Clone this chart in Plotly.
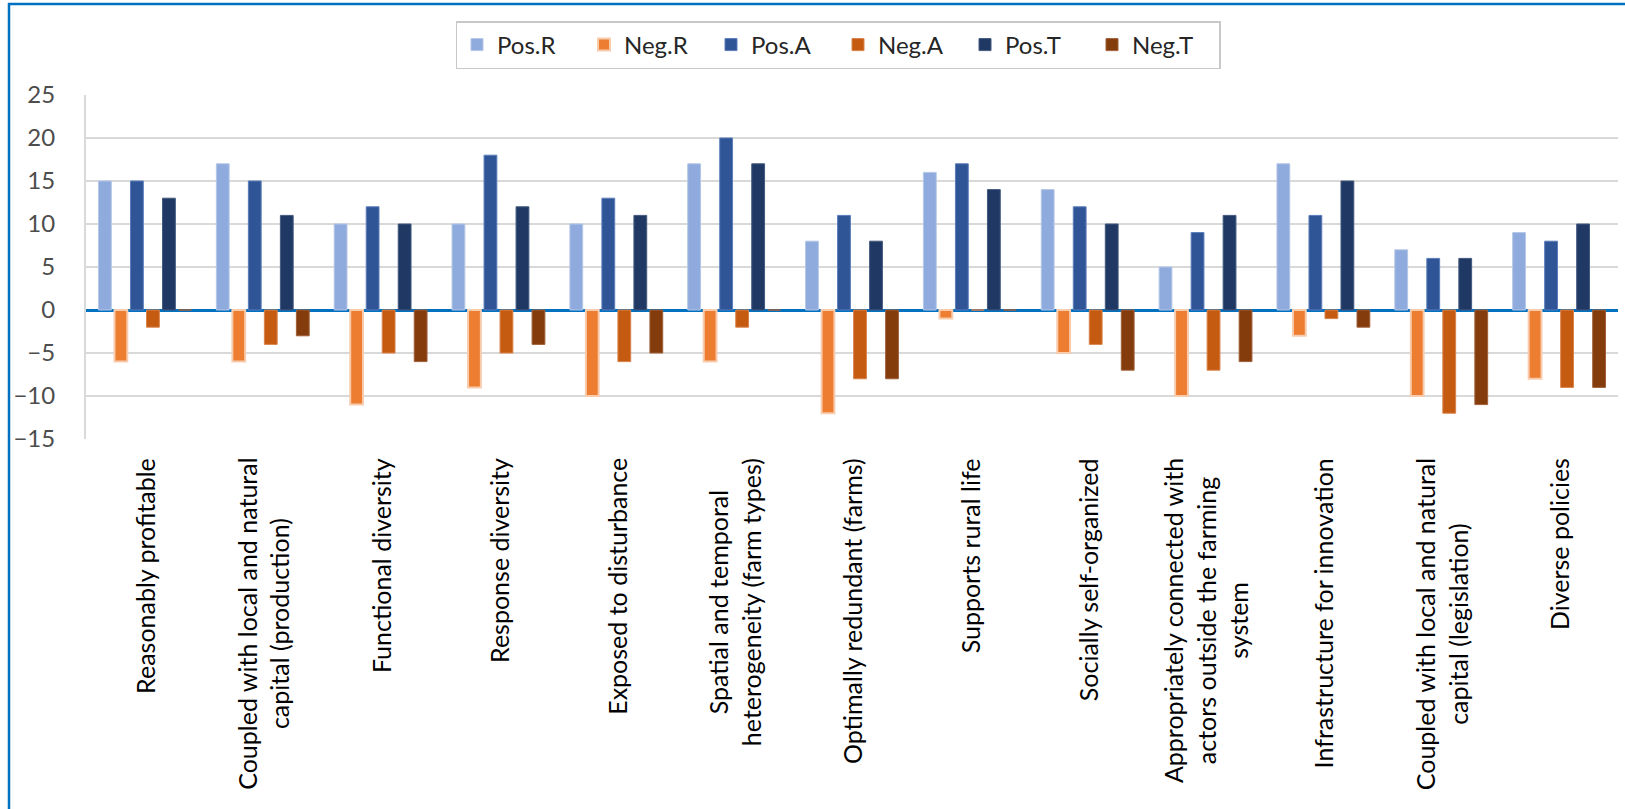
import plotly.graph_objects as go

# Resilience attributes (x categories)
categories = [
    "Reasonably profitable",
    "Coupled with local and natural<br>capital (production)",
    "Functional diversity",
    "Response diversity",
    "Exposed to disturbance",
    "Spatial and temporal<br>heterogeneity (farm types)",
    "Optimally redundant (farms)",
    "Supports rural life",
    "Socially self-organized",
    "Appropriately connected with<br>actors outside the farming<br>system",
    "Infrastructure for innovation",
    "Coupled with local and natural<br>capital (legislation)",
    "Diverse policies",
]

series_names = ["Pos.R", "Neg.R", "Pos.A", "Neg.A", "Pos.T", "Neg.T"]

pos_r = [15, 17, 10, 10, 10, 17, 8, 16, 14, 5, 17, 7, 9]
neg_r = [-6, -6, -11, -9, -10, -6, -12, -1, -5, -10, -3, -10, -8]
pos_a = [15, 15, 12, 18, 13, 20, 11, 17, 12, 9, 11, 6, 8]
neg_a = [-2, -4, -5, -5, -6, -2, -8, 0, -4, -7, -1, -12, -9]
pos_t = [13, 11, 10, 12, 11, 17, 8, 14, 10, 11, 15, 6, 10]
neg_t = [0, -3, -6, -4, -5, 0, -8, 0, -7, -6, -2, -11, -9]

y_ticks = [-15, -10, -5, 0, 5, 10, 15, 20, 25]

values = [pos_r, neg_r, pos_a, neg_a, pos_t, neg_t]
fills = ["#8FAADC", "#ED7D31", "#2F5597", "#C55A11", "#203864", "#843C0C"]
edges = ["#B4C7E7", "#F8CBAD", "#5B7DBA", "#D9824A", "#44597F", "#A0603A"]
edge_w = [1, 2, 1, 1, 1, 1]

W, H = 1625, 809
L, R, T, B = 86, 7, 95, 370
PW, PH = W - L - R, H - T - B


def px_x(px):
    return (px - L) / PW


def px_y(py):
    return (H - B - py) / PH


fig = go.Figure()
for name, vals, fc, ec, ew in zip(series_names, values, fills, edges, edge_w):
    fig.add_trace(go.Bar(
        name=name, x=categories, y=vals,
        marker=dict(color=fc, line=dict(color=ec, width=ew)),
    ))

# Category labels, rotated and centred under each group
annotations = []
for c in categories:
    annotations.append(dict(
        x=c, xref="x", y=px_y(456), yref="paper",
        text=c, showarrow=False, textangle=-90,
        xanchor="center", yanchor="top", align="center",
        font=dict(family="Lato", size=25, color="#000000"),
    ))

frame = "#0070C0"
shapes = [
    dict(type="line", xref="paper", yref="paper",
         x0=px_x(8), x1=px_x(W + 5), y0=px_y(4), y1=px_y(4),
         line=dict(color=frame, width=2.5)),
    dict(type="line", xref="paper", yref="paper",
         x0=px_x(9), x1=px_x(9), y0=px_y(3), y1=px_y(H + 5),
         line=dict(color=frame, width=2.5)),
]

fig.update_layout(
    width=W, height=H,
    margin=dict(l=L, r=R, t=T, b=B, autoexpand=False),
    paper_bgcolor="white", plot_bgcolor="white",
    barmode="group", bargap=0.185, bargroupgap=0.2,
    font=dict(family="Lato", color="#404040"),
    legend=dict(
        orientation="h", x=px_x(838), xanchor="center",
        y=px_y(21), yanchor="top",
        bordercolor="#C8C8C8", borderwidth=1.5, bgcolor="white",
        font=dict(family="Lato", size=24, color="#262626"),
        entrywidth=82, traceorder="normal",
    ),
    annotations=annotations,
    shapes=shapes,
    xaxis=dict(showticklabels=False, showgrid=False, showline=False,
               zeroline=False, ticks=""),
    yaxis=dict(range=[-15, 25], tickvals=y_ticks,
               showgrid=True, gridcolor="#D9D9D9", gridwidth=2,
               zeroline=True, zerolinecolor="#0070C0", zerolinewidth=2.5,
               showline=True, linecolor="#D9D9D9", linewidth=2,
               ticks="", ticklabelstandoff=24,
               tickfont=dict(family="Lato", size=24, color="#4D4D4D")),
)

fig.write_html("out.html")
